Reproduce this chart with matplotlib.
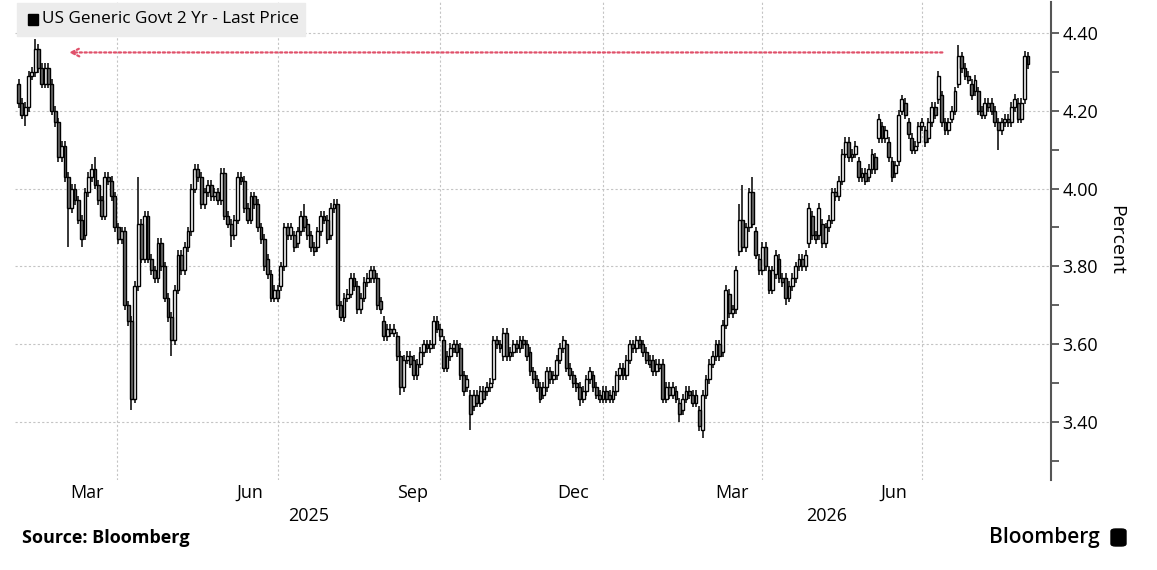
import matplotlib
matplotlib.use("Agg")
import matplotlib.pyplot as plt
import matplotlib.dates as mdates
import matplotlib.transforms as mtransforms
from matplotlib.patches import FancyBboxPatch, Rectangle
from matplotlib.ticker import MultipleLocator, FormatStrFormatter
import numpy as np
import pandas as pd

plt.rcParams['font.family'] = ['Open Sans', 'DejaVu Sans']

# daily-ish candles, Feb 2025 .. end Aug 2026
first_day = "2025-02-04"
last_day = "2026-08-30"

opens = [
    4.27, 4.22, 4.19, 4.21, 4.29, 4.30, 4.36, 4.31, 4.27, 4.31,
    4.27, 4.20, 4.17, 4.08, 4.11, 4.03, 3.95, 4.00, 3.97, 3.92,
    3.88, 3.99, 4.03, 4.05, 4.01, 3.97, 3.93, 4.03, 4.02, 3.98,
    3.90, 3.87, 3.89, 3.70, 3.66, 3.46, 3.75, 3.91, 3.82, 3.93,
    3.82, 3.79, 3.77, 3.86, 3.80, 3.72, 3.67, 3.61, 3.74, 3.83,
    3.79, 3.85, 3.89, 4.00, 4.05, 4.03, 3.96, 3.99, 4.01, 3.98,
    3.99, 3.97, 4.04, 3.93, 3.91, 3.88, 3.92, 4.03, 4.02, 3.95,
    3.92, 3.98, 3.96, 3.90, 3.87,
    3.82, 3.78, 3.72, 3.74, 3.75, 3.80, 3.90, 3.88, 3.88, 3.86,
    3.89, 3.93, 3.91, 3.88, 3.85, 3.85, 3.89, 3.93, 3.92, 3.88,
    3.95, 3.96, 3.70, 3.67, 3.72, 3.73, 3.77, 3.75, 3.69, 3.72,
    3.76, 3.77, 3.79, 3.77, 3.71, 3.66, 3.62, 3.64, 3.63, 3.62,
    3.57, 3.49, 3.56, 3.57, 3.56, 3.52, 3.55, 3.58, 3.60, 3.59,
    3.60, 3.66, 3.64, 3.61, 3.54, 3.57, 3.59, 3.60, 3.59, 3.52,
    3.49, 3.47, 3.44, 3.47, 3.45, 3.48, 3.48, 3.49, 3.51, 3.61,
    3.60, 3.57, 3.63, 3.57, 3.58, 3.60,
    3.59, 3.61, 3.60, 3.58, 3.53, 3.51, 3.49, 3.47, 3.49, 3.53,
    3.51, 3.52, 3.56, 3.59, 3.60, 3.54, 3.52, 3.50, 3.49, 3.46,
    3.48, 3.51, 3.52, 3.49, 3.47, 3.46, 3.48, 3.47, 3.46, 3.48,
    3.52, 3.54, 3.52, 3.56, 3.60, 3.59, 3.61, 3.60, 3.58, 3.56,
    3.56, 3.53, 3.55, 3.55, 3.46, 3.49, 3.47, 3.48, 3.45, 3.43,
    3.46, 3.48, 3.47, 3.45, 3.43, 3.38, 3.47, 3.51, 3.55, 3.57,
    3.60, 3.58, 3.65, 3.73, 3.68, 3.69, 3.84, 3.92, 3.85, 3.90,
    3.99, 3.89, 3.82, 3.79, 3.85,
    3.79, 3.74, 3.78, 3.82, 3.77, 3.77, 3.72, 3.75, 3.77, 3.80,
    3.82, 3.80, 3.86, 3.93, 3.88, 3.88, 3.91, 3.86, 3.90, 3.92,
    3.99, 3.98, 4.02, 4.09, 4.12, 4.08, 4.09, 4.07, 4.03, 4.04,
    4.03, 4.05, 4.08, 4.13, 4.16, 4.13, 4.12, 4.07, 4.04, 4.07,
    4.20, 4.22, 4.17, 4.13, 4.10, 4.12, 4.16, 4.15, 4.13, 4.17,
    4.21, 4.23, 4.24, 4.17, 4.15, 4.18, 4.20, 4.27, 4.34, 4.31,
    4.29, 4.27, 4.25, 4.25, 4.20, 4.19, 4.22, 4.22, 4.20, 4.17,
    4.15, 4.17, 4.18, 4.17, 4.21, 4.22, 4.18, 4.23, 4.34,
]

closes = [
    4.22, 4.19, 4.21, 4.29, 4.30, 4.36, 4.31, 4.27, 4.31, 4.27,
    4.20, 4.17, 4.08, 4.11, 4.03, 3.95, 4.00, 3.97, 3.92, 3.87,
    3.99, 4.03, 4.05, 4.01, 3.97, 3.93, 4.03, 4.02, 3.98, 3.90,
    3.87, 3.89, 3.70, 3.66, 3.46, 3.75, 3.91, 3.82, 3.93, 3.82,
    3.79, 3.77, 3.86, 3.80, 3.72, 3.67, 3.61, 3.74, 3.83, 3.79,
    3.85, 3.89, 4.00, 4.05, 4.03, 3.96, 3.99, 4.01, 3.98, 3.99,
    3.97, 4.04, 3.93, 3.91, 3.88, 3.92, 4.03, 4.02, 3.95, 3.92,
    3.98, 3.96, 3.90, 3.87, 3.80,
    3.78, 3.72, 3.74, 3.72, 3.80, 3.90, 3.88, 3.90, 3.85, 3.89,
    3.93, 3.90, 3.88, 3.85, 3.84, 3.89, 3.93, 3.92, 3.87, 3.95,
    3.96, 3.70, 3.67, 3.72, 3.73, 3.77, 3.75, 3.69, 3.72, 3.76,
    3.77, 3.79, 3.77, 3.70, 3.69, 3.62, 3.64, 3.63, 3.64, 3.57,
    3.49, 3.56, 3.57, 3.55, 3.52, 3.55, 3.58, 3.60, 3.59, 3.60,
    3.66, 3.64, 3.62, 3.54, 3.57, 3.59, 3.60, 3.58, 3.52, 3.48,
    3.51, 3.42, 3.47, 3.45, 3.48, 3.46, 3.49, 3.50, 3.61, 3.60,
    3.59, 3.63, 3.57, 3.58, 3.60, 3.59,
    3.61, 3.60, 3.57, 3.53, 3.51, 3.49, 3.46, 3.49, 3.53, 3.51,
    3.52, 3.56, 3.59, 3.61, 3.54, 3.52, 3.50, 3.49, 3.46, 3.48,
    3.51, 3.53, 3.49, 3.47, 3.46, 3.48, 3.46, 3.46, 3.48, 3.52,
    3.54, 3.52, 3.56, 3.60, 3.59, 3.61, 3.60, 3.58, 3.56, 3.55,
    3.53, 3.55, 3.54, 3.46, 3.49, 3.47, 3.49, 3.46, 3.42, 3.46,
    3.48, 3.47, 3.45, 3.47, 3.39, 3.47, 3.51, 3.55, 3.57, 3.60,
    3.57, 3.65, 3.74, 3.68, 3.69, 3.79, 3.92, 3.85, 3.90, 3.99,
    3.91, 3.83, 3.79, 3.85, 3.80,
    3.74, 3.79, 3.83, 3.77, 3.76, 3.72, 3.75, 3.77, 3.80, 3.82,
    3.80, 3.83, 3.95, 3.88, 3.87, 3.95, 3.86, 3.90, 3.92, 3.99,
    3.98, 4.02, 4.09, 4.12, 4.08, 4.09, 4.11, 4.03, 4.04, 4.02,
    4.05, 4.09, 4.05, 4.18, 4.13, 4.15, 4.08, 4.03, 4.06, 4.19,
    4.23, 4.19, 4.14, 4.10, 4.11, 4.16, 4.17, 4.12, 4.17, 4.21,
    4.19, 4.29, 4.17, 4.15, 4.17, 4.20, 4.25, 4.34, 4.31, 4.29,
    4.28, 4.24, 4.28, 4.20, 4.19, 4.22, 4.21, 4.20, 4.17, 4.15,
    4.17, 4.18, 4.17, 4.21, 4.23, 4.18, 4.22, 4.34, 4.32,
]

# long wicks that stand out (index -> value)
spike_highs = {5: 4.385, 23: 4.08, 36: 4.03, 86: 3.96, 107: 3.80, 164: 3.62,
               186: 3.62, 217: 3.96, 218: 4.01, 221: 4.03, 266: 4.24,
               283: 4.37, 303: 4.355}
spike_lows = {2: 4.16, 15: 3.85, 19: 3.85, 34: 3.43, 46: 3.57, 64: 3.85,
              97: 3.66, 115: 3.47, 136: 3.38, 169: 3.44, 199: 3.40,
              206: 3.36, 231: 3.70, 295: 4.10}

# red marker: latest high level carried back to the start
marker_level = 4.35
marker_from = "2026-07-14"
marker_to = "2025-03-03"

legend_label = "US Generic Govt 2 Yr - Last Price"

WICK = 0.012

dates = pd.date_range(first_day, last_day, periods=len(closes))
x = mdates.date2num(dates)
o = np.array(opens)
c = np.array(closes)
hi = np.maximum(o, c) + WICK
lo = np.minimum(o, c) - WICK
for k, v in spike_highs.items():
    hi[k] = v
for k, v in spike_lows.items():
    lo[k] = v

fig = plt.figure(figsize=(11.57, 5.7), dpi=100)
ax = fig.add_axes([0.013, 0.158, 0.8954, 0.838])

ax.vlines(x, lo, hi, color='black', lw=1.1, zorder=2)
up = c >= o
body_w = 1.6
ax.bar(x[up], (c - o)[up], bottom=o[up], width=body_w, color='white',
       edgecolor='black', linewidth=1.0, zorder=3)
ax.bar(x[~up], (o - c)[~up], bottom=c[~up], width=body_w, color='#6e6e6e',
       edgecolor='black', linewidth=1.0, zorder=3)

ax.annotate('', xy=(mdates.datestr2num(marker_to), marker_level),
            xytext=(mdates.datestr2num(marker_from), marker_level),
            arrowprops=dict(arrowstyle='->', linestyle=(0, (1, 1.2)),
                            color='#e0506a', lw=1.6, mutation_scale=14),
            zorder=4)

ax.set_xlim(mdates.datestr2num("2025-02-02"), mdates.datestr2num("2026-09-12"))
ax.set_ylim(3.251, 4.479)

for s in ['left', 'top', 'bottom']:
    ax.spines[s].set_visible(False)
ax.spines['right'].set_color('#555555')
ax.spines['right'].set_linewidth(1.5)

ax.yaxis.tick_right()
ax.yaxis.set_major_locator(MultipleLocator(0.2))
ax.yaxis.set_minor_locator(MultipleLocator(0.1))
ax.yaxis.set_major_formatter(FormatStrFormatter('%.2f'))
ax.tick_params(axis='y', which='both', direction='out', length=6, width=1.3,
               color='#555555', labelsize=13, pad=2)

ax.xaxis.set_major_locator(mdates.MonthLocator(bymonth=[1, 4, 7, 10]))
ax.xaxis.set_major_formatter(plt.NullFormatter())
ax.xaxis.set_minor_locator(mdates.MonthLocator(bymonth=[3, 6, 9, 12], bymonthday=15))
ax.xaxis.set_minor_formatter(mdates.DateFormatter('%b'))
ax.tick_params(axis='x', which='both', length=0, labelsize=13, pad=3)

ax.grid(True, which='major', color='#c4c4c4', linestyle=(0, (2, 2)), lw=0.8)
ax.set_axisbelow(True)

# year labels under the month labels, centred on each year's visible span
x0, x1 = ax.get_xlim()
trans = mtransforms.blended_transform_factory(ax.transData, ax.transAxes)
for yr in [2025, 2026]:
    a = max(x0, mdates.datestr2num(f"{yr}-01-01"))
    b = min(x1, mdates.datestr2num(f"{yr + 1}-01-01"))
    ax.text((a + b) / 2, -0.075, str(yr), transform=trans, ha='center',
            va='center', fontsize=13)

fig.text(0.965, 1 - 240 / 570, 'Percent', rotation=270, ha='center',
         va='center', fontsize=14)

# legend strip top-left
fig.patches.append(Rectangle((17 / 1157, 1 - 36 / 570), 288 / 1157, 33 / 570,
                             transform=fig.transFigure, color='#ececec',
                             zorder=5))
fig.patches.append(Rectangle((28 / 1157, 1 - 25 / 570), 10 / 1157, 11 / 570,
                             transform=fig.transFigure, color='black',
                             zorder=6))
fig.text(42 / 1157, 1 - 19 / 570, legend_label, ha='left', va='center',
         fontsize=12.3, zorder=7)

fig.text(22 / 1157, 1 - 538 / 570, 'Source: Bloomberg', ha='left',
         va='center', fontsize=13, fontweight='bold')
fig.text(1100 / 1157, 1 - 537 / 570, 'Bloomberg', ha='right', va='center',
         fontsize=15, fontweight='semibold')
fig.patches.append(FancyBboxPatch((1111 / 1157, 1 - 546 / 570), 15 / 1157,
                                  17 / 570, boxstyle='round,pad=0,rounding_size=0.004',
                                  transform=fig.transFigure, color='black'))

fig.savefig('out.png', dpi=100)
